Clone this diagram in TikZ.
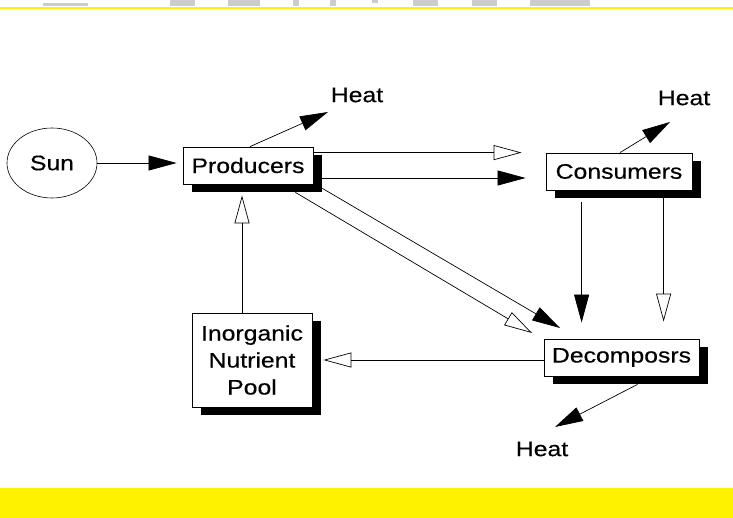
\documentclass[tikz,border=0pt]{standalone}
\usepackage{fontspec}
\setmainfont{Liberation Sans}[FakeStretch=1.18,FakeBold=0.4]
\usetikzlibrary{arrows.meta,shapes.geometric,shadows}
\definecolor{ghost}{rgb}{0.8,0.8,0.8}
\begin{document}
\begin{tikzpicture}[x=1pt,y=-1pt,
  txt/.style={font=\fontsize{21}{27}\selectfont},
  box/.style={txt, draw, fill=white, line width=0.8pt, inner sep=0pt,
    drop shadow={shadow xshift=9pt, shadow yshift=-8pt, fill=black, opacity=1}},
  lbl/.style={txt, inner sep=0pt},
  fa/.style={-{Triangle[length=28pt,width=15pt]}, line width=0.7pt},
  oa/.style={-{Triangle[open,length=28pt,width=15pt]}, line width=0.7pt}]
\useasboundingbox (0,0) rectangle (733,518);
% frame remnants
\fill[ghost] (43,3) rectangle (88,6);
\fill[ghost] (170,0) rectangle (195,6);
\fill[ghost] (228,0) rectangle (260,6);
\fill[ghost] (293,0) rectangle (299,6);
\fill[ghost] (330,0) rectangle (336,6);
\fill[ghost] (372,0) rectangle (378,3);
\fill[ghost] (413,0) rectangle (438,6);
\fill[ghost] (472,0) rectangle (497,6);
\fill[ghost] (530,0) rectangle (590,6);
\fill[fill=yellow] (0,7) rectangle (733,9);
\fill[fill=yellow] (0,488) rectangle (733,518);
% nodes
\node[txt, ellipse, draw, line width=0.6pt, minimum width=90pt, minimum height=70pt, inner sep=0pt] (sun) at (52,163) {Sun};
\node[box, minimum width=130pt, minimum height=37pt] (prod) at (248,165.5) {Producers};
\node[box, minimum width=146pt, minimum height=37pt] (cons) at (619,171.5) {Consumers};
\node[box, minimum width=155pt, minimum height=37pt] (dec) at (621.5,357.5) {Decomposrs};
\node[box, minimum width=120pt, minimum height=94pt, align=center] (inorg) at (252,360) {Inorganic\\Nutrient\\Pool};
\node[lbl] (h1) at (357,95) {Heat};
\node[lbl] (h2) at (684,98) {Heat};
\node[lbl] (h3) at (542,449) {Heat};
% arrow tips toward the heat labels and decomposers
\coordinate (t1) at (328,112);
\coordinate (t2) at (670,122);
\coordinate (t3) at (555,427);
\coordinate (t4) at (560,328);
\coordinate (t5) at (532,333);
% connectors
\draw[fa, shorten >=6pt] (sun.east) -- (sun.east -| prod.west);
\draw[fa] ([xshift=2pt]prod.north) -- (t1);
\draw[fa] ([xshift=1pt]cons.north) -- (t2);
\draw[fa] ([xshift=16pt,yshift=-8pt]dec.south) -- (t3);
\draw[oa, shorten >=24pt] ([yshift=-6pt]prod.north east) -- ([yshift=-6pt]prod.north east -| cons.west);
\draw[fa, shorten >=29pt] ([xshift=9pt,yshift=-12.5pt]prod.east) -- ([xshift=9pt,yshift=-12.5pt]prod.east -| cons.west);
\draw[fa] ([xshift=9pt,yshift=-4pt]prod.south east) -- (t4);
\draw[oa] ([xshift=-18pt,yshift=-8pt]prod.south east) -- (t5);
\draw[fa, shorten >=16pt] ([xshift=36pt,yshift=-12pt]cons.south west) -- ([xshift=36pt]cons.south west |- dec.north);
\draw[oa, shorten >=17pt] ([xshift=118pt,yshift=-8pt]cons.south west) -- ([xshift=118pt]cons.south west |- dec.north);
\draw[oa, shorten >=11pt] (inorg.east -| dec.west) -- (inorg.east);
\draw[oa, shorten >=11pt] ([xshift=-10pt]inorg.north) -- ([xshift=-10pt]inorg.north |- prod.south);
\end{tikzpicture}
\end{document}
